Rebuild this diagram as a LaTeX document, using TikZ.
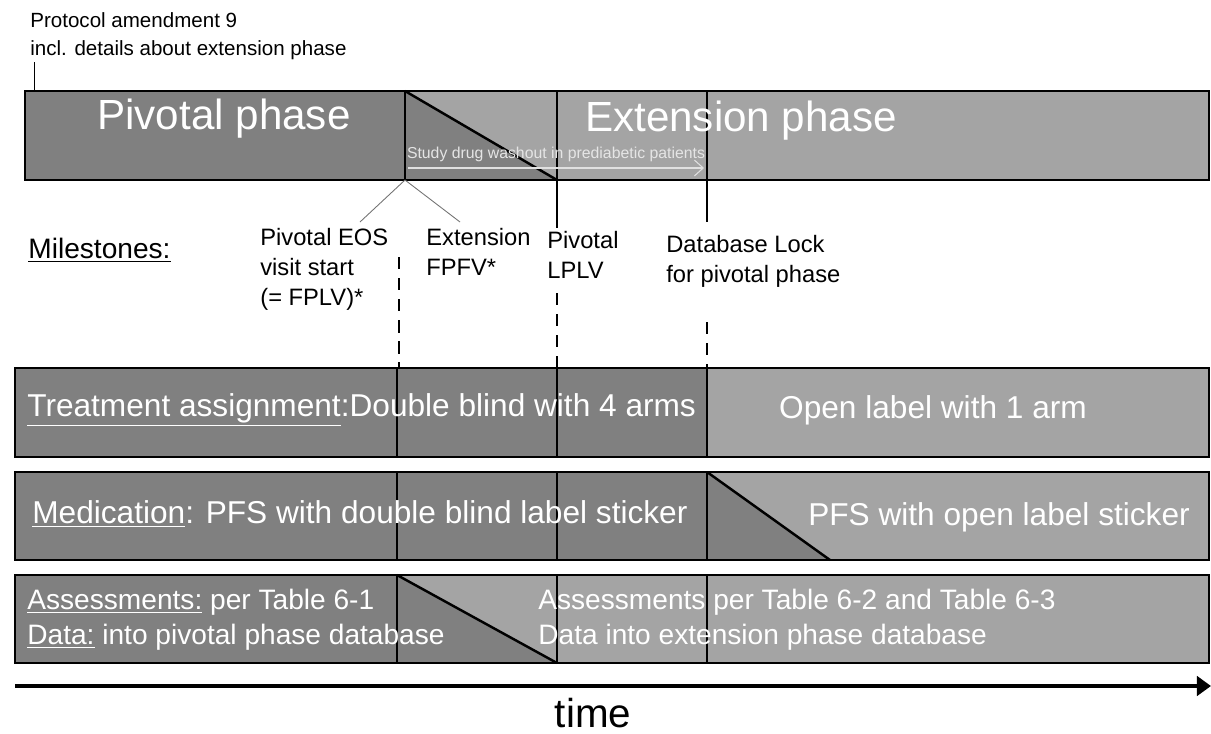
\documentclass[tikz,border=0pt]{standalone}
\usepackage{fontspec}
\setmainfont{Liberation Sans}
\usetikzlibrary{arrows.meta}

\definecolor{pivotgray}{gray}{0.5}
\definecolor{extgray}{gray}{0.645}

\tikzset{
	barframe/.style={line width=1.6pt},
	barsplit/.style={line width=1.4pt},
	bartext/.style={text=white, inner sep=0pt},
	mslabel/.style={align=left, anchor=north west, inner sep=0pt, font=\fontsize{13.5}{17}\selectfont},
	msline/.style={draw=black!55, line width=0.5pt},
	msdash/.style={line width=1.2pt, dash pattern=on 7pt off 5pt}
}

\begin{document}
\begin{tikzpicture}[x=0.02cm, y=-0.02cm]
			%%%%% START %%%%%
			\useasboundingbox (0,0) rectangle (1211,734);
			
			\node[anchor=north west, inner sep=0pt, align=left, font=\fontsize{11.7}{16}\selectfont] (amend) at (30,12) {Protocol amendment 9\\incl. details about extension phase};
			\coordinate (amendtop) at (34,62);
			\coordinate (amendfoot) at (34,91);
			\draw[line width=0.5pt] (amendtop) -- (amendfoot);
			
			%% phase bar
			\fill[pivotgray] (25,91) rectangle (405,180);
			\fill[extgray] (405,91) rectangle (1209,180);
			\fill[pivotgray] (405,91) -- (405,180) -- (557,180) -- cycle;
			\draw[barsplit] (405,91) -- (557,180);
			\draw[line width=0.8pt] (405,91) -- (405,180);
			\draw[barsplit] (557,91) -- (557,180);
			\draw[barframe] (25,91) rectangle (707,180);
			\draw[barframe] (707,91) rectangle (1209,180);
			
			\node[bartext, font=\fontsize{24}{28}\selectfont] (pivotal) at (224,119) {Pivotal phase};
			\node[bartext, font=\fontsize{24}{28}\selectfont] (extension) at (741,121) {Extension phase};
			\node[bartext, text=white!90!black, font=\fontsize{9}{11}\selectfont] (washout) at (556,154) {Study drug washout in prediabetic patients};
			\coordinate (washstart) at (408,168);
			\coordinate (washend) at (704,168);
			\draw[white!88!black, line width=0.6pt, -{Straight Barb[length=5pt,width=9pt]}] (washstart) -- (washend);
			
			%% milestones
			\node[anchor=west, inner sep=0pt, font=\fontsize{16}{18}\selectfont] (milestones) at (28,250) {\underline{Milestones:}};
			
			\node[mslabel] (eos) at (260,228) {Pivotal EOS\\visit start\\(= FPLV)*};
			\node[mslabel] (fpfv) at (426,228) {Extension\\FPFV*};
			\node[mslabel] (lplv) at (547,231) {Pivotal\\LPLV};
			\node[mslabel] (dblock) at (666,235) {Database Lock\\for pivotal phase};
			
			\coordinate (eospt) at (405,180);
			\coordinate (lplvpt) at (557,180);
			\coordinate (dbpt) at (707,180);
			\draw[msline] (eospt) -- (360,222);
			\draw[msline] (eospt) -- (460,222);
			\draw[line width=0.6pt] (lplvpt) -- (557,228);
			\draw[line width=0.6pt] (dbpt) -- (707,222);
			
			\draw[msdash] (399,257) -- (399,368);
			\draw[msdash] (557,293) -- (557,368);
			\draw[msdash] (707,322) -- (707,368);
			
			%% treatment row
			\fill[pivotgray] (15,368) rectangle (707,457);
			\fill[extgray] (707,368) rectangle (1209,457);
			\foreach \xs in {397,557,707}
				\draw[barsplit] (\xs,368) -- (\xs,457);
			\draw[barframe] (15,368) rectangle (1209,457);
			\node[bartext, anchor=west, font=\fontsize{18}{21}\selectfont] (treat) at (27,410) {\underline{Treatment assignment}:Double blind with 4 arms};
			\node[bartext, font=\fontsize{18}{21}\selectfont] (openarm) at (933,410) {Open label with 1 arm};
			
			%% medication row
			\fill[pivotgray] (15,472) rectangle (707,560);
			\fill[extgray] (707,472) rectangle (1209,560);
			\fill[pivotgray] (707,472) -- (707,560) -- (830,560) -- cycle;
			\draw[barsplit] (707,472) -- (830,560);
			\foreach \xs in {397,557,707}
				\draw[barsplit] (\xs,472) -- (\xs,560);
			\draw[barframe] (15,472) rectangle (1209,560);
			\node[bartext, anchor=west, font=\fontsize{18}{21}\selectfont] (medic) at (32,514) {\underline{Medication}: PFS with double blind label sticker};
			\node[bartext, font=\fontsize{18}{21}\selectfont] (openpfs) at (999,517) {PFS with open label sticker};
			
			%% assessment row
			\fill[pivotgray] (15,575) rectangle (397,663);
			\fill[extgray] (397,575) rectangle (1209,663);
			\fill[pivotgray] (397,575) -- (397,663) -- (557,663) -- cycle;
			\draw[barsplit] (397,575) -- (557,663);
			\foreach \xs in {397,557,707}
				\draw[barsplit] (\xs,575) -- (\xs,663);
			\draw[barframe] (15,575) rectangle (1209,663);
			\node[bartext, anchor=west, font=\fontsize{16}{18}\selectfont] (assesspiv) at (27,602) {\underline{Assessments:} per Table 6-1};
			\node[bartext, anchor=west, font=\fontsize{16}{18}\selectfont] (datapiv) at (27,637) {\underline{Data:} into pivotal phase database};
			\node[bartext, anchor=west, font=\fontsize{16}{18}\selectfont] (assessext) at (538,602) {Assessments per Table 6-2 and Table 6-3};
			\node[bartext, anchor=west, font=\fontsize{16}{18}\selectfont] (dataext) at (538,637) {Data into extension phase database};
			
			%% time axis
			\coordinate (tstart) at (15,686);
			\coordinate (tend) at (1211,686);
			\draw[line width=2.8pt, -{Triangle[length=8pt,width=11pt]}] (tstart) -- (tend);
			\node[inner sep=0pt, font=\fontsize{23}{26}\selectfont] (time) at (593,713) {time};
			
			%%%%% END %%%%%
\end{tikzpicture}
\end{document}
